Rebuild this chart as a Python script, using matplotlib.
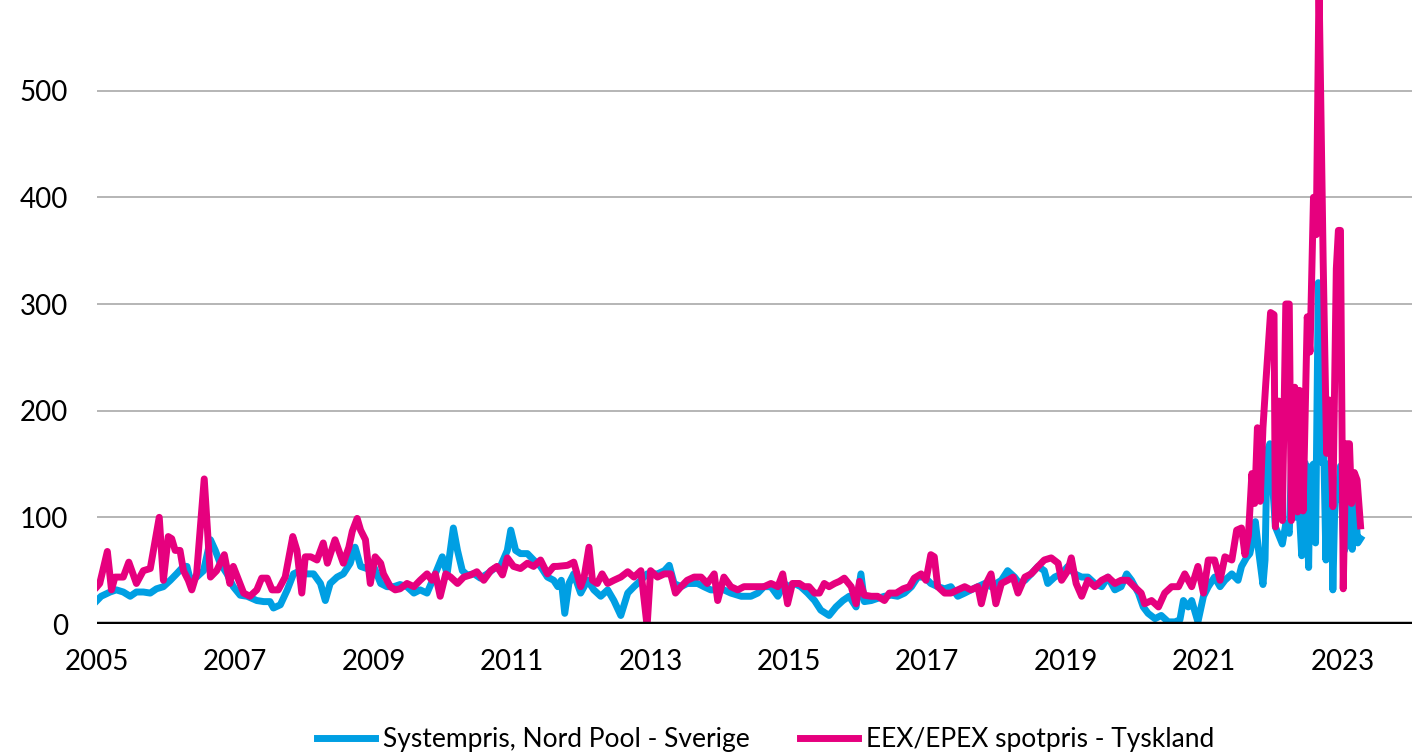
import matplotlib.pyplot as plt

plt.rcParams['font.family'] = ['Lato', 'DejaVu Sans']

# Systempris, Nord Pool - Sverige (decimal year, price)
sweden_years = [
    2005.00, 2005.06, 2005.19, 2005.28, 2005.38, 2005.48, 2005.57, 2005.67, 2005.77, 2005.86,
    2005.96, 2006.06, 2006.15, 2006.25, 2006.30, 2006.35, 2006.44, 2006.54, 2006.64, 2006.71,
    2006.78, 2006.88, 2006.97, 2007.07, 2007.17, 2007.31, 2007.41, 2007.50, 2007.55, 2007.65,
    2007.75, 2007.84, 2007.94, 2008.03, 2008.13, 2008.23, 2008.30, 2008.37, 2008.47, 2008.56,
    2008.66, 2008.73, 2008.81, 2008.90, 2009.00, 2009.10, 2009.19, 2009.29, 2009.38, 2009.48,
    2009.58, 2009.67, 2009.77, 2009.87, 2009.99, 2010.06, 2010.15, 2010.21, 2010.28, 2010.35,
    2010.45, 2010.54, 2010.64, 2010.74, 2010.83, 2010.93, 2010.98, 2011.05, 2011.12, 2011.22,
    2011.31, 2011.41, 2011.51, 2011.60, 2011.66, 2011.71, 2011.76, 2011.82, 2011.89, 2011.99,
    2012.09, 2012.18, 2012.28, 2012.38, 2012.47, 2012.57, 2012.67, 2012.76, 2012.86, 2012.95,
    2013.10, 2013.20, 2013.27, 2013.34, 2013.44, 2013.53, 2013.68, 2013.77, 2013.87, 2014.06,
    2014.16, 2014.31, 2014.45, 2014.55, 2014.64, 2014.74, 2014.84, 2014.93, 2015.00, 2015.08,
    2015.17, 2015.27, 2015.37, 2015.46, 2015.58, 2015.68, 2015.78, 2015.87, 2015.97, 2016.04,
    2016.09, 2016.19, 2016.28, 2016.38, 2016.48, 2016.57, 2016.67, 2016.77, 2016.86, 2016.96,
    2017.05, 2017.15, 2017.25, 2017.34, 2017.44, 2017.54, 2017.63, 2017.73, 2017.83, 2017.92,
    2018.07, 2018.16, 2018.26, 2018.33, 2018.41, 2018.50, 2018.60, 2018.69, 2018.74, 2018.84,
    2018.94, 2019.03, 2019.13, 2019.23, 2019.32, 2019.42, 2019.52, 2019.61, 2019.71, 2019.80,
    2019.88, 2019.95, 2020.05, 2020.12, 2020.19, 2020.29, 2020.38, 2020.48, 2020.58, 2020.65,
    2020.70, 2020.77, 2020.82, 2020.91, 2020.99, 2021.06, 2021.15, 2021.23, 2021.30, 2021.40,
    2021.49, 2021.54, 2021.61, 2021.66, 2021.69, 2021.74, 2021.79, 2021.85, 2021.88, 2021.91,
    2021.95, 2021.99, 2022.03, 2022.13, 2022.18, 2022.23, 2022.27, 2022.31, 2022.36, 2022.41,
    2022.46, 2022.51, 2022.53, 2022.58, 2022.61, 2022.65, 2022.69, 2022.71, 2022.73, 2022.76,
    2022.79, 2022.82, 2022.84, 2022.86, 2022.89, 2022.93, 2022.97, 2023.02, 2023.08, 2023.11,
    2023.14, 2023.18, 2023.22, 2023.26,
]
sweden_price = [
    22, 26, 30, 32, 30, 26, 30, 30, 29, 33,
    35, 41, 47, 54, 54, 41, 44, 50, 79, 69,
    57, 47, 35, 27, 26, 22, 21, 21, 15, 18,
    32, 47, 50, 47, 47, 38, 22, 38, 44, 47,
    57, 72, 54, 52, 54, 38, 35, 35, 37, 35,
    29, 32, 29, 44, 63, 47, 90, 69, 50, 46,
    47, 43, 47, 52, 54, 69, 88, 69, 66, 66,
    60, 54, 44, 41, 35, 41, 10, 38, 47, 29,
    41, 32, 26, 32, 22, 8, 29, 35, 41, 47,
    47, 50, 55, 38, 35, 38, 38, 35, 32, 32,
    29, 26, 26, 29, 35, 35, 26, 38, 35, 38,
    35, 29, 22, 13, 8, 16, 22, 26, 16, 47,
    21, 22, 24, 26, 27, 26, 29, 35, 44, 44,
    38, 35, 33, 35, 26, 29, 32, 35, 38, 35,
    41, 50, 44, 38, 41, 47, 54, 50, 38, 44,
    47, 54, 47, 44, 44, 38, 35, 44, 32, 35,
    47, 41, 29, 16, 10, 5, 8, 2, 2, 4,
    22, 16, 22, 2, 26, 35, 44, 35, 41, 47,
    41, 54, 62, 66, 75, 96, 67, 37, 60, 162,
    169, 130, 91, 75, 94, 85, 165, 100, 125, 64,
    151, 53, 146, 150, 76, 320, 284, 151, 159, 60,
    150, 87, 117, 32, 117, 117, 148, 68, 79, 113,
    70, 113, 76, 80,
]

# EEX/EPEX spotpris - Tyskland (decimal year, price)
germany_years = [
    2005.00, 2005.04, 2005.15, 2005.21, 2005.26, 2005.38, 2005.46, 2005.57, 2005.67, 2005.77,
    2005.90, 2005.96, 2006.03, 2006.08, 2006.13, 2006.20, 2006.25, 2006.32, 2006.37, 2006.44,
    2006.55, 2006.64, 2006.73, 2006.84, 2006.92, 2006.97, 2007.12, 2007.21, 2007.31, 2007.38,
    2007.46, 2007.53, 2007.62, 2007.72, 2007.83, 2007.89, 2007.96, 2008.01, 2008.09, 2008.18,
    2008.27, 2008.33, 2008.44, 2008.56, 2008.64, 2008.69, 2008.76, 2008.81, 2008.88, 2008.95,
    2009.02, 2009.10, 2009.14, 2009.24, 2009.31, 2009.38, 2009.48, 2009.58, 2009.67, 2009.77,
    2009.84, 2009.89, 2009.96, 2010.04, 2010.11, 2010.21, 2010.30, 2010.40, 2010.49, 2010.59,
    2010.69, 2010.78, 2010.86, 2010.93, 2011.02, 2011.12, 2011.22, 2011.31, 2011.41, 2011.51,
    2011.60, 2011.65, 2011.80, 2011.89, 2011.99, 2012.04, 2012.11, 2012.16, 2012.23, 2012.30,
    2012.38, 2012.47, 2012.57, 2012.67, 2012.76, 2012.86, 2012.95, 2013.00, 2013.10, 2013.20,
    2013.29, 2013.36, 2013.44, 2013.53, 2013.63, 2013.73, 2013.82, 2013.92, 2013.97, 2014.06,
    2014.16, 2014.26, 2014.35, 2014.45, 2014.55, 2014.64, 2014.74, 2014.84, 2014.91, 2014.98,
    2015.05, 2015.15, 2015.22, 2015.29, 2015.37, 2015.44, 2015.51, 2015.58, 2015.66, 2015.73,
    2015.80, 2015.90, 2015.97, 2016.02, 2016.09, 2016.19, 2016.28, 2016.38, 2016.45, 2016.55,
    2016.65, 2016.74, 2016.81, 2016.91, 2016.98, 2017.05, 2017.10, 2017.15, 2017.25, 2017.34,
    2017.44, 2017.54, 2017.63, 2017.73, 2017.78, 2017.85, 2017.92, 2017.99, 2018.07, 2018.16,
    2018.24, 2018.31, 2018.41, 2018.50, 2018.60, 2018.69, 2018.79, 2018.89, 2018.94, 2019.03,
    2019.08, 2019.15, 2019.23, 2019.32, 2019.42, 2019.52, 2019.61, 2019.71, 2019.80, 2019.90,
    2019.99, 2020.09, 2020.14, 2020.24, 2020.34, 2020.43, 2020.53, 2020.63, 2020.72, 2020.82,
    2020.91, 2020.99, 2021.06, 2021.15, 2021.23, 2021.30, 2021.40, 2021.47, 2021.54, 2021.59,
    2021.64, 2021.69, 2021.73, 2021.77, 2021.81, 2021.85, 2021.89, 2021.96, 2022.01, 2022.03,
    2022.08, 2022.13, 2022.18, 2022.23, 2022.26, 2022.31, 2022.35, 2022.38, 2022.43, 2022.49,
    2022.53, 2022.58, 2022.62, 2022.66, 2022.72, 2022.77, 2022.81, 2022.86, 2022.91, 2022.94,
    2022.97, 2023.01, 2023.05, 2023.10, 2023.13, 2023.17, 2023.21, 2023.26,
]
germany_price = [
    35, 38, 68, 32, 44, 44, 58, 38, 50, 52,
    100, 41, 82, 80, 69, 69, 50, 41, 32, 47,
    136, 44, 50, 65, 38, 54, 29, 26, 32, 43,
    43, 32, 32, 44, 82, 69, 29, 63, 63, 60,
    76, 57, 79, 57, 72, 87, 99, 88, 79, 38,
    63, 57, 47, 35, 32, 33, 38, 35, 41, 47,
    41, 47, 26, 47, 44, 38, 44, 46, 49, 41,
    50, 54, 46, 62, 54, 52, 57, 54, 60, 47,
    54, 54, 55, 58, 35, 44, 72, 41, 38, 47,
    38, 41, 44, 49, 44, 50, -2, 50, 44, 47,
    47, 29, 35, 41, 44, 44, 38, 47, 22, 44,
    35, 32, 35, 35, 35, 35, 38, 35, 47, 19,
    38, 38, 35, 35, 29, 29, 38, 35, 38, 40,
    43, 35, 19, 40, 27, 26, 26, 22, 29, 29,
    33, 35, 43, 47, 41, 65, 63, 35, 29, 29,
    32, 35, 32, 35, 19, 38, 47, 19, 38, 41,
    44, 29, 44, 47, 54, 60, 62, 57, 41, 50,
    62, 38, 26, 41, 35, 41, 44, 38, 41, 41,
    35, 29, 19, 22, 16, 29, 35, 35, 47, 35,
    54, 29, 60, 60, 41, 63, 60, 88, 90, 65,
    83, 141, 113, 184, 115, 184, 225, 292, 290, 91,
    209, 97, 300, 300, 97, 222, 105, 219, 106, 288,
    255, 400, 365, 600, 340, 160, 210, 110, 333, 369,
    369, 33, 169, 169, 113, 142, 135, 92,
]

year_ticks = list(range(2005, 2024, 2))
price_ticks = [0, 100, 200, 300, 400, 500]

fig = plt.figure(figsize=(14.26, 7.54), dpi=100)
ax = fig.add_axes([0.068, 0.1724, 0.922, 0.8276])

ax.plot(sweden_years, sweden_price, color='#009FE3', lw=5,
        label='Systempris, Nord Pool - Sverige', zorder=3)
ax.plot(germany_years, germany_price, color='#E6007E', lw=5,
        label='EEX/EPEX spotpris - Tyskland', zorder=4)

ax.set_xlim(2005, 2024)
ax.set_ylim(0, 585)
ax.set_xticks(year_ticks)
ax.set_yticks(price_ticks)
ax.grid(axis='y', color='#b0b0b0', lw=1.3, zorder=1)
ax.axhline(0, color='black', lw=3.2, zorder=6)
for s in ax.spines.values():
    s.set_visible(False)
ax.tick_params(axis='both', length=0, labelsize=20)
ax.tick_params(axis='y', pad=21)
ax.tick_params(axis='x', pad=18)

fig.legend(loc='center', bbox_to_anchor=(0.537, 0.019), ncol=2, frameon=False,
           fontsize=19, handlelength=2.2, handletextpad=0.3, columnspacing=1.9)

plt.savefig('out.png')
